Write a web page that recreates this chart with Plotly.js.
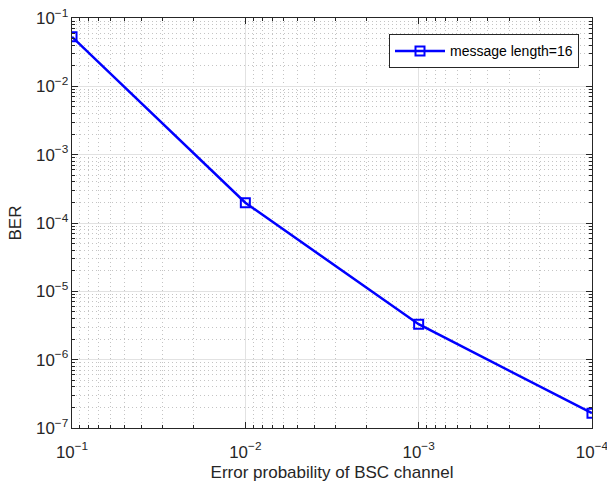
<!DOCTYPE html>
<html>
<head>
<meta charset="utf-8">
<script src="https://cdn.plot.ly/plotly-3.0.1.min.js"></script>
<style>html,body{margin:0;padding:0;background:#fff;}#chart{width:607px;height:482px;}</style>
</head>
<body>
<div id="chart"></div>
<script>
var errorProb = [1e-1, 1e-2, 1e-3, 1e-4];
var ber = [0.053, 1.98e-4, 3.3e-6, 1.65e-7];
var seriesName = 'message length=16';

var font = 'Liberation Sans, Arial, Helvetica, sans-serif';
var trace = {
  x: errorProb, y: ber, type: 'scatter', mode: 'lines+markers', name: seriesName,
  line: {color: 'rgb(0,0,255)', width: 2.5},
  marker: {symbol: 'square-open', size: 9, color: 'rgb(0,0,255)', line: {width: 2, color: 'rgb(0,0,255)'}}
};
var axisCommon = {
  type: 'log', showline: true, linecolor: '#262626', linewidth: 1, mirror: 'ticks',
  ticks: 'inside', ticklen: 6, tickcolor: '#262626', showgrid: true, gridcolor: '#e2e2e2', gridwidth: 1,
  zeroline: false, exponentformat: 'power', dtick: 1, tick0: 0, ticklabeloverflow: 'allow',
  tickfont: {family: font, size: 13.5, color: '#262626'},
  minor: {ticks: 'inside', ticklen: 3, tickcolor: '#262626', showgrid: true, gridcolor: '#c4c4c4', griddash: '1px,3px', gridwidth: 1}
};
var layout = {
  width: 607, height: 482, paper_bgcolor: '#fff', plot_bgcolor: '#fff',
  margin: {l: 72, r: 15, t: 18, b: 54},
  showlegend: true,
  legend: {x: 0.975, y: 0.96, xanchor: 'right', yanchor: 'top', bgcolor: '#fff', bordercolor: '#262626', borderwidth: 1,
    itemwidth: 50, font: {family: font, size: 14, color: '#000'}},
  xaxis: Object.assign({}, axisCommon, {range: [-0.9998, -4.0002], ticklabelstandoff: 9,
    title: {text: 'Error probability of BSC channel', font: {family: font, size: 17, color: '#262626'}, standoff: 8}}),
  yaxis: Object.assign({}, axisCommon, {range: [-7.0002, -0.9998],
    title: {text: 'BER', font: {family: font, size: 17, color: '#262626'}, standoff: 10}})
};
Plotly.newPlot('chart', [trace], layout, {staticPlot: true});
</script>
</body>
</html>
